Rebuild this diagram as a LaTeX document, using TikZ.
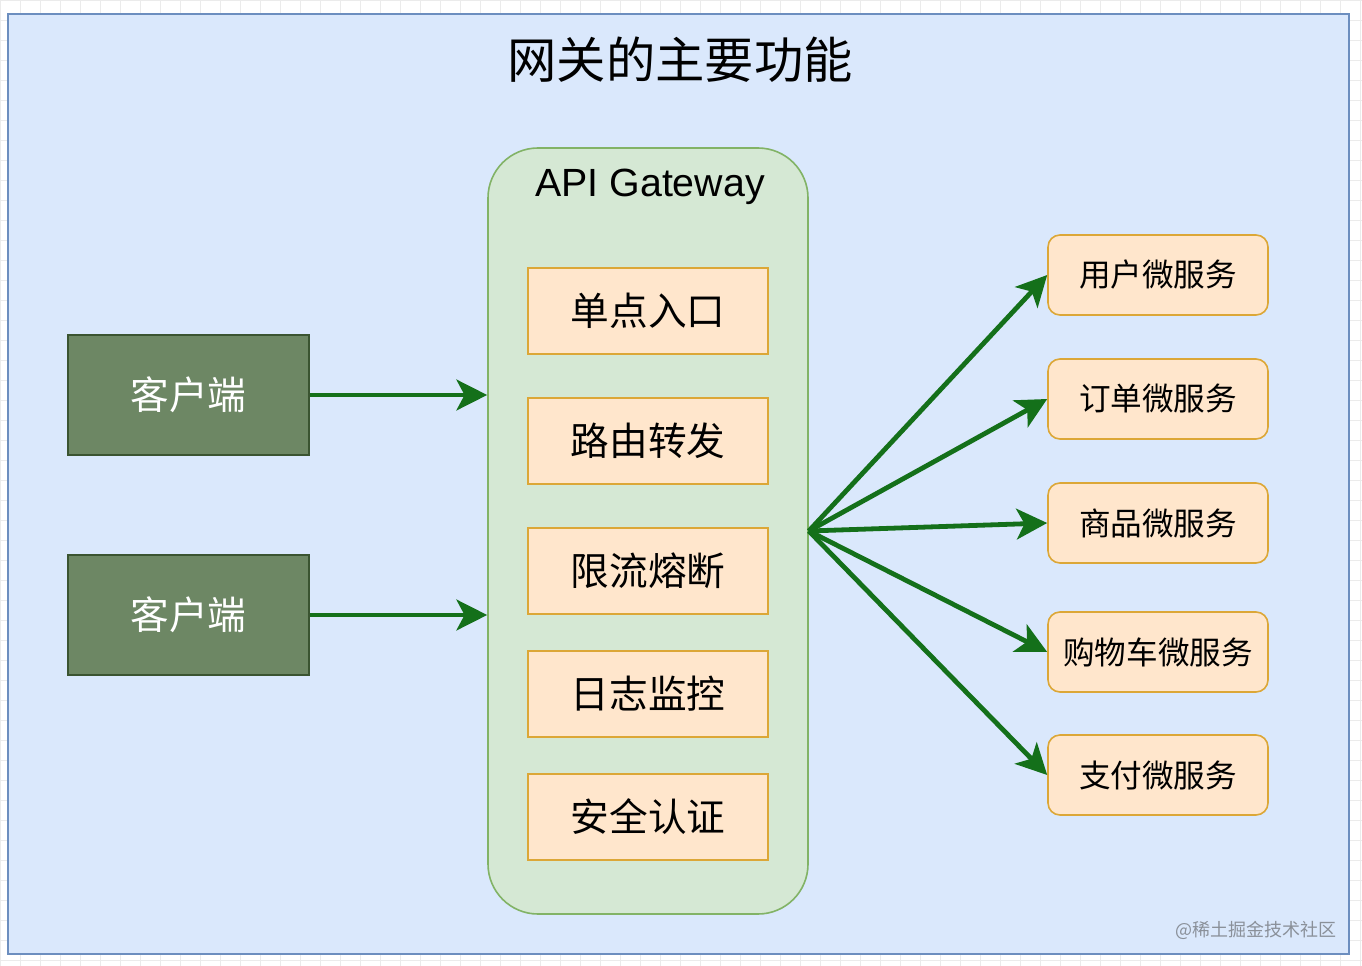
\documentclass[tikz,border=0pt]{standalone}
\usepackage{fontspec}
\setmainfont{Liberation Sans}
\newfontfamily\cjk{Noto Sans CJK SC}
\usetikzlibrary{arrows.meta}
\definecolor{frameFill}{HTML}{DAE8FC}
\definecolor{frameLine}{HTML}{6C8EBF}
\definecolor{gwFill}{HTML}{D5E8D4}
\definecolor{gwLine}{HTML}{82B366}
\definecolor{modFill}{HTML}{FFE6CC}
\definecolor{modLine}{HTML}{DCA737}
\definecolor{cliFill}{HTML}{6D8764}
\definecolor{cliLine}{HTML}{3A5431}
\definecolor{arrowGreen}{HTML}{14701A}
\definecolor{gridGray}{HTML}{EBEBEB}
\definecolor{markGray}{HTML}{8A9099}
\tikzset{
  frame/.style={draw=frameLine, fill=frameFill, line width=1.5pt, minimum width=1005.75pt, minimum height=705pt, inner sep=0pt},
  gateway/.style={draw=gwLine, fill=gwFill, line width=1.2pt, rounded corners=37.5pt, minimum width=240pt, minimum height=574.5pt, inner sep=0pt},
  module/.style={draw=modLine, fill=modFill, line width=1.2pt, minimum width=180pt, minimum height=64.5pt, inner sep=0pt, font=\cjk\fontsize{29pt}{32pt}\selectfont},
  client/.style={draw=cliLine, fill=cliFill, line width=1.2pt, minimum width=180.75pt, minimum height=90pt, inner sep=0pt, text=white, font=\cjk\fontsize{29pt}{32pt}\selectfont},
  service/.style={draw=modLine, fill=modFill, line width=1.2pt, rounded corners=9pt, minimum width=165pt, minimum height=60pt, inner sep=0pt, font=\cjk\fontsize{23.7pt}{26pt}\selectfont},
  flow/.style={draw=arrowGreen, line width=3.6pt, -{Stealth[length=23pt,width=23pt,inset=6pt]}},
}
\begin{document}
\begin{tikzpicture}[x=0.75pt,y=-0.75pt]
\useasboundingbox (0,0) rectangle (1362,966);
\fill[white] (0,0) rectangle (1362,966);
\draw[gridGray, line width=0.6pt, step=15pt] (0,0) grid (1362,966);
\node[frame] (frame) at (678.5,484) {};
\node[font=\cjk\fontsize{37pt}{40pt}\selectfont] (title) at (680,60) {网关的主要功能};
\node[gateway] (gw) at (648,531) {};
\node[font=\fontsize{29.5pt}{32pt}\selectfont] (gwlabel) at (650,187) {API Gateway};
\node[module] (m1) at (648,311) {单点入口};
\node[module] (m2) at (648,441) {路由转发};
\node[module] (m3) at (648,571) {限流熔断};
\node[module] (m4) at (648,694) {日志监控};
\node[module] (m5) at (648,817) {安全认证};
\node[client] (c1) at (188.5,395) {客户端};
\node[client] (c2) at (188.5,615) {客户端};
\node[service] (s1) at (1158,275) {用户微服务};
\node[service] (s2) at (1158,399) {订单微服务};
\node[service] (s3) at (1158,523) {商品微服务};
\node[service] (s4) at (1158,652) {购物车微服务};
\node[service] (s5) at (1158,775) {支付微服务};
\draw[flow] (c1.east) -- (c1.east -| gw.west);
\draw[flow] (c2.east) -- (c2.east -| gw.west);
\foreach \s in {s1,s2,s3,s4,s5} {
  \draw[flow] (gw.east) -- (\s.west);
}
\node[text=markGray, font=\cjk\fontsize{13.5pt}{15pt}\selectfont] (mark) at (1256,930) {@稀土掘金技术社区};
\end{tikzpicture}
\end{document}
